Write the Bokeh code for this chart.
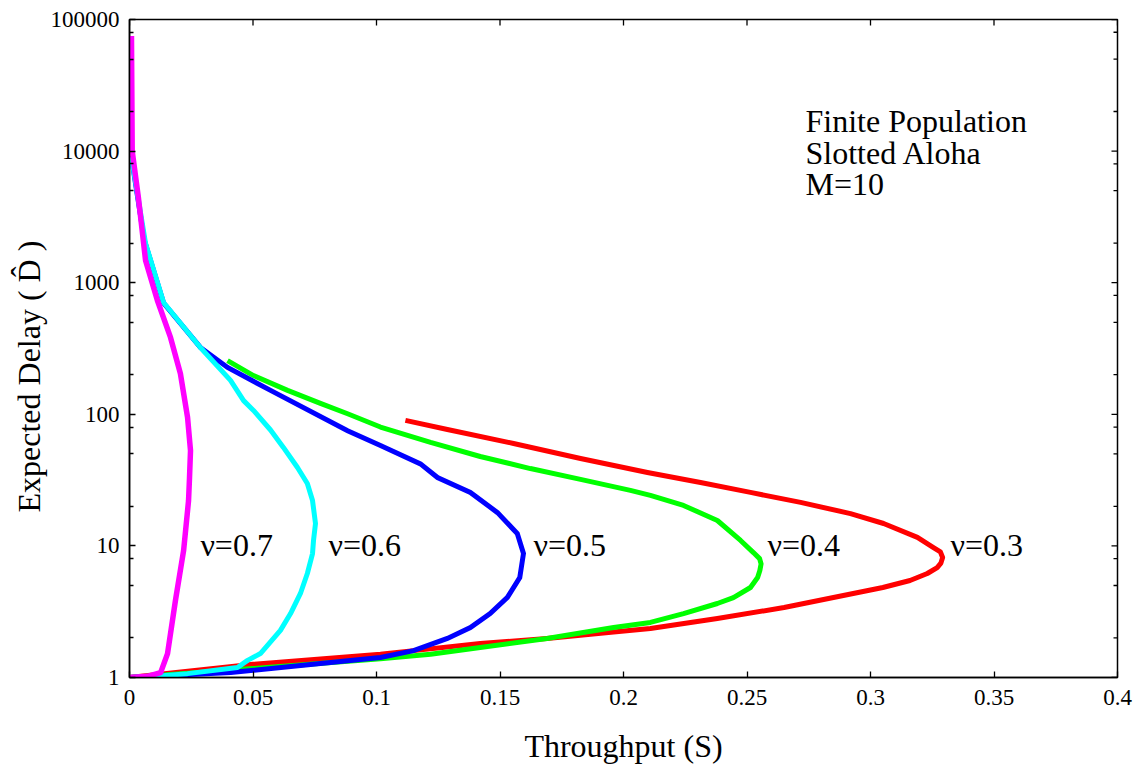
import math
from bokeh.plotting import figure
from bokeh.models import FixedTicker, PrintfTickFormatter, Title
from bokeh.core.properties import value
from bokeh.embed import file_html
from bokeh.resources import INLINE

# ---- data ----
red_x = [0.1117, 0.1287, 0.1555, 0.1826, 0.2097, 0.2312, 0.2514, 0.2717, 0.2919, 0.3053, 0.319, 0.3255,
         0.3283, 0.3292, 0.3285, 0.327, 0.323, 0.316, 0.305, 0.285, 0.265, 0.238, 0.2109, 0.196, 0.169,
         0.142, 0.115, 0.1016, 0.05, 0.0]
red_y = [90, 76.6, 60, 46.1, 36.1, 30.3, 25.5, 21.4, 17.6, 14.8, 11.6, 9.7,
         9.0, 8.17, 7.4, 6.85, 6.17, 5.46, 4.83, 4.05, 3.40, 2.81, 2.36, 2.22, 1.98,
         1.81, 1.6, 1.5, 1.26, 1.0]

green_x = [0.0397, 0.0502, 0.064, 0.0773, 0.0883, 0.1016, 0.1219, 0.142, 0.1623, 0.1826, 0.2028, 0.2109,
           0.2243, 0.238, 0.2474, 0.2526, 0.2551, 0.2557, 0.2552, 0.2543, 0.2514, 0.2445, 0.238, 0.2243,
           0.2109, 0.196, 0.169, 0.142, 0.1219, 0.1016, 0.05, 0.0]
green_y = [256, 197, 152, 121, 101, 80, 61.1, 47.8, 38.7, 32.0, 26.4, 24.2,
           20.3, 15.6, 11.0, 8.9, 8.0, 7.3, 6.5, 5.75, 4.83, 4.05, 3.65, 3.06,
           2.62, 2.4, 1.98, 1.69, 1.5, 1.39, 1.17, 1.0]

blue_x = [0.0004, 0.006, 0.0138, 0.0287, 0.0397, 0.0571, 0.0883, 0.1016, 0.1178, 0.1247, 0.138, 0.149,
          0.157, 0.1595, 0.158, 0.153, 0.146, 0.138, 0.1287, 0.115, 0.1016, 0.0773, 0.041, 0.0]
blue_y = [10000, 2100, 700, 322, 227, 152, 75, 58, 42, 33.1, 25.5, 17.9,
          12.4, 8.75, 5.75, 4.06, 3.06, 2.4, 1.98, 1.6, 1.42, 1.28, 1.09, 1.0]

cyan_x = [0.0008, 0.0065, 0.0138, 0.0287, 0.0409, 0.0462, 0.0502, 0.0571, 0.0623, 0.068, 0.072, 0.0741,
          0.0753, 0.0745, 0.0741, 0.072, 0.0692, 0.0652, 0.0611, 0.053, 0.0478, 0.0437, 0.0235, 0.0097, 0.0]
cyan_y = [9000, 1986, 707, 322, 181, 127, 107, 76, 56, 39.4, 29.8, 22.1,
          14.8, 11.0, 8.75, 6.17, 4.35, 3.06, 2.28, 1.52, 1.35, 1.19, 1.07, 1.02, 1.0]

magenta_x = [0.0008, 0.0011, 0.0036, 0.0065, 0.0113, 0.0166, 0.0206, 0.0235, 0.0247, 0.0243, 0.0239,
             0.0219, 0.0186, 0.0154, 0.0126, 0.0073, 0.0]
magenta_y = [75000, 10000, 4440, 1475, 732, 384, 204, 95, 53, 33, 22,
             9.2, 3.85, 1.52, 1.09, 1.02, 1.0]

curve_labels = ["ν=0.7", "ν=0.6", "ν=0.5", "ν=0.4", "ν=0.3"]
x_ticks = [0, 0.05, 0.1, 0.15, 0.2, 0.25, 0.3, 0.35, 0.4]
x_tick_labels = ["0", "0.05", "0.1", "0.15", "0.2", "0.25", "0.3", "0.35", "0.4"]
y_ticks = [1, 10, 100, 1000, 10000, 100000]
y_minor = [m * 10 ** k for k in range(5) for m in (2, 5, 8)]
note_lines = ["Finite Population", "Slotted Aloha", "M=10"]
x_title = "Throughput (S)"
y_title = "Expected Delay ( D\u0302 )"

# ---- placement (not data) ----
label_x = [0.0287, 0.0806, 0.1636, 0.2583, 0.3324]
label_y = [10.24] * 5
note_x = [0.2737] * 3
note_y = [16790, 9750, 5575]

FONT = "Liberation Serif"

p = figure(width=1144, height=772, x_range=(0, 0.4), y_range=(1, 100000),
           y_axis_type="log", output_backend="svg", toolbar_location=None,
           min_border_left=129, min_border_right=27, min_border_top=19,
           min_border_bottom=95)
p.xgrid.visible = False
p.ygrid.visible = False
p.outline_line_color = "black"
p.outline_line_width = 1.5
p.background_fill_color = "white"
p.border_fill_color = "white"

# bottom axis
xa = p.xaxis[0]
xa.ticker = FixedTicker(ticks=x_ticks)
xa.major_label_overrides = {t: s for t, s in zip(x_ticks, x_tick_labels)}
xa.axis_label = x_title

# left axis
ya = p.yaxis[0]
ya.ticker = FixedTicker(ticks=y_ticks, minor_ticks=y_minor)
ya.formatter = PrintfTickFormatter(format="%d")

for ax in (xa, ya):
    ax.major_tick_in = 6
    ax.major_tick_out = 0
    ax.minor_tick_in = 4
    ax.minor_tick_out = 0
    ax.axis_line_color = "black"
    ax.axis_line_width = 1.5
    ax.major_tick_line_width = 1.3
    ax.minor_tick_line_width = 1.3
    ax.major_label_text_font = FONT
    ax.major_label_text_font_size = "23px"
    ax.major_label_text_color = "black"
    ax.axis_label_text_font = FONT
    ax.axis_label_text_font_size = "32px"
    ax.axis_label_text_font_style = "normal"
    ax.axis_label_text_color = "black"

xa.major_label_standoff = 12
ya.major_label_standoff = 10
xa.axis_label_standoff = 20

# y axis title as a side title, starting 165px above the frame bottom
p.add_layout(Title(text=y_title, align="left", offset=165, text_font=FONT,
                   text_font_size="32px", text_font_style="normal", text_color="black",
                   standoff=2), "left")

# mirrored inward ticks on the top and right edges (clipped to the frame)
p.scatter(x=x_ticks, y=[100000] * len(x_ticks), marker="dash", size=12, angle=math.pi / 2,
          line_color="black", line_width=1.3)
p.scatter(x=[0.4] * len(y_ticks), y=y_ticks, marker="dash", size=12,
          line_color="black", line_width=1.3)
p.scatter(x=[0.4] * len(y_minor), y=y_minor, marker="dash", size=8,
          line_color="black", line_width=1.3)

# curves (draw order: red, green, blue, cyan, magenta)
p.line(red_x, red_y, line_color="#ff0000", line_width=5, line_join="round")
p.line(green_x, green_y, line_color="#00ff00", line_width=5, line_join="round")
p.line(blue_x, blue_y, line_color="#0000ff", line_width=5, line_join="miter")
p.line(cyan_x, cyan_y, line_color="#00ffff", line_width=5, line_join="round")
p.line(magenta_x, magenta_y, line_color="#ff00ff", line_width=5.5, line_join="round")

p.text(x=label_x, y=label_y, text=curve_labels, text_font=value(FONT),
       text_font_size="32px", text_baseline="alphabetic", text_align="left",
       text_color="black")
p.text(x=note_x, y=note_y, text=note_lines, text_font=value(FONT),
       text_font_size="32px", text_baseline="alphabetic", text_align="left",
       text_color="black")

open("out.html", "w").write(file_html(p, INLINE))
